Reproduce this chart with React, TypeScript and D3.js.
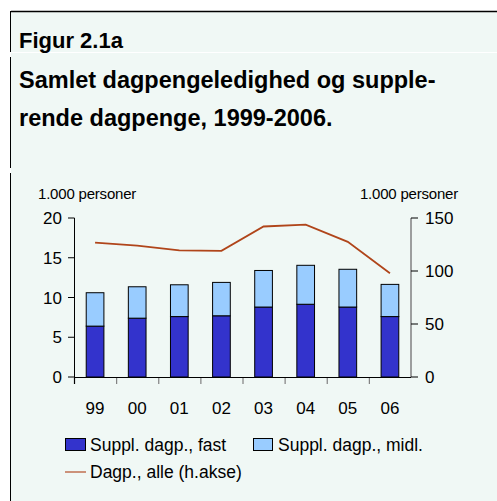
import React from "react";
import * as d3 from "d3";

const years = ["99", "00", "01", "02", "03", "04", "05", "06"];
const fast = [6.4, 7.4, 7.6, 7.7, 8.8, 9.15, 8.8, 7.6];
const midl = [4.2, 3.95, 4.0, 4.2, 4.6, 4.9, 4.75, 4.05];
const dagpAlle = [126.7, 124, 119.5, 119, 142, 143.8, 127.5, 97.8];
const leftTicks = [0, 5, 10, 15, 20];
const rightTicks = [0, 50, 100, 150];

const W = 497;
const H = 501;
const FONT = "Arial, 'Liberation Sans', Helvetica, sans-serif";
const BG = "#F0F8F5";
const DARK = "#3333CC";
const LIGHT = "#99CCFF";
const LINE = "#B0451A";

export default function App() {
  const x = d3.scaleBand<string>().domain(years).range([74, 411]).paddingInner(0.58).paddingOuter(0.29);
  const band = d3.scaleBand<string>().domain(years).range([74, 411]);
  const yL = d3.scaleLinear().domain([0, 20]).range([377, 218]);
  const yR = d3.scaleLinear().domain([0, 150]).range([377, 218]);
  const line = d3
    .line<number>()
    .x((_, i) => (band(years[i]) as number) + band.bandwidth() / 2)
    .y((d) => yR(d));

  return (
    <svg width={W} height={H} style={{ position: "absolute", left: 0, top: 0 }} fontFamily={FONT}>
      <rect x={11} y={11} width={W - 11} height={H - 11} fill={BG} />
      <line x1={11} x2={W} y1={11.5} y2={11.5} stroke="#000" strokeWidth={1.5} />
      <line x1={11} x2={W} y1={52.5} y2={52.5} stroke="#fff" strokeWidth={1} />
      <line x1={10.5} x2={10.5} y1={11} y2={52} stroke="#000" />
      <line x1={10.5} x2={10.5} y1={57} y2={168} stroke="#000" />
      <line x1={10.5} x2={10.5} y1={173} y2={H} stroke="#000" />

      <text x={19} y={48} fontSize={22} fontWeight="bold" fill="#000">Figur 2.1a</text>
      <text x={19} y={88} fontSize={23.5} fontWeight="bold" fill="#000">Samlet dagpengeledighed og supple-</text>
      <text x={19} y={126} fontSize={23.5} fontWeight="bold" fill="#000">rende dagpenge, 1999-2006.</text>

      <text x={38} y={199} fontSize={15} fill="#000" letterSpacing={-0.2}>1.000 personer</text>
      <text x={458} y={199} fontSize={15} fill="#000" textAnchor="end" letterSpacing={-0.2}>1.000 personer</text>

      {years.map((yr, i) => (
        <g key={yr}>
          <rect
            x={x(yr)}
            y={yL(fast[i])}
            width={x.bandwidth()}
            height={yL(0) - yL(fast[i])}
            fill={DARK}
            stroke="#000"
            strokeWidth={1}
          />
          <rect
            x={x(yr)}
            y={yL(fast[i] + midl[i])}
            width={x.bandwidth()}
            height={yL(fast[i]) - yL(fast[i] + midl[i])}
            fill={LIGHT}
            stroke="#000"
            strokeWidth={1}
          />
        </g>
      ))}

      <path d={line(dagpAlle) || ""} fill="none" stroke={LINE} strokeWidth={1.8} />

      {/* left axis */}
      <line x1={74.5} x2={74.5} y1={yL(20)} y2={yL(0)} stroke="#000" />
      {leftTicks.map((t) => (
        <g key={t}>
          <line x1={68} x2={74.5} y1={yL(t)} y2={yL(t)} stroke="#000" />
          <text x={62} y={yL(t)} dy="0.36em" fontSize={17} textAnchor="end" fill="#000">{t}</text>
        </g>
      ))}
      {/* right axis */}
      <line x1={411} x2={411} y1={yR(150)} y2={yR(0)} stroke="#808080" strokeWidth={1.5} />
      {rightTicks.map((t) => (
        <g key={t}>
          <line x1={411} x2={418} y1={yR(t)} y2={yR(t)} stroke="#000" />
          <text x={425} y={yR(t)} dy="0.36em" fontSize={17} fill="#000">{t}</text>
        </g>
      ))}
      {/* x axis */}
      <line x1={74} x2={411} y1={377.5} y2={377.5} stroke="#000" />
      {years.map((yr, i) => (
        <line key={"t" + yr} x1={(band(yr) as number) + 0.5} x2={(band(yr) as number) + 0.5} y1={378} y2={384} stroke={i === 0 ? "#000" : "#808080"} strokeWidth={1.2} />
      ))}
      {years.map((yr) => (
        <text key={"l" + yr} x={(band(yr) as number) + band.bandwidth() / 2} y={414} fontSize={17} textAnchor="middle" fill="#000">{yr}</text>
      ))}

      {/* legend */}
      <rect x={65.5} y={438.5} width={20} height={12} fill={DARK} stroke="#000" />
      <text x={90} y={451} fontSize={17.5} fill="#000">Suppl. dagp., fast</text>
      <rect x={253.5} y={438.5} width={19} height={12} fill={LIGHT} stroke="#000" />
      <text x={278} y={451} fontSize={17.5} fill="#000">Suppl. dagp., midl.</text>
      <line x1={65} x2={86} y1={472} y2={472} stroke="#C07050" strokeWidth={1.5} />
      <text x={90} y={478} fontSize={17.5} fill="#000">Dagp., alle (h.akse)</text>
    </svg>
  );
}
